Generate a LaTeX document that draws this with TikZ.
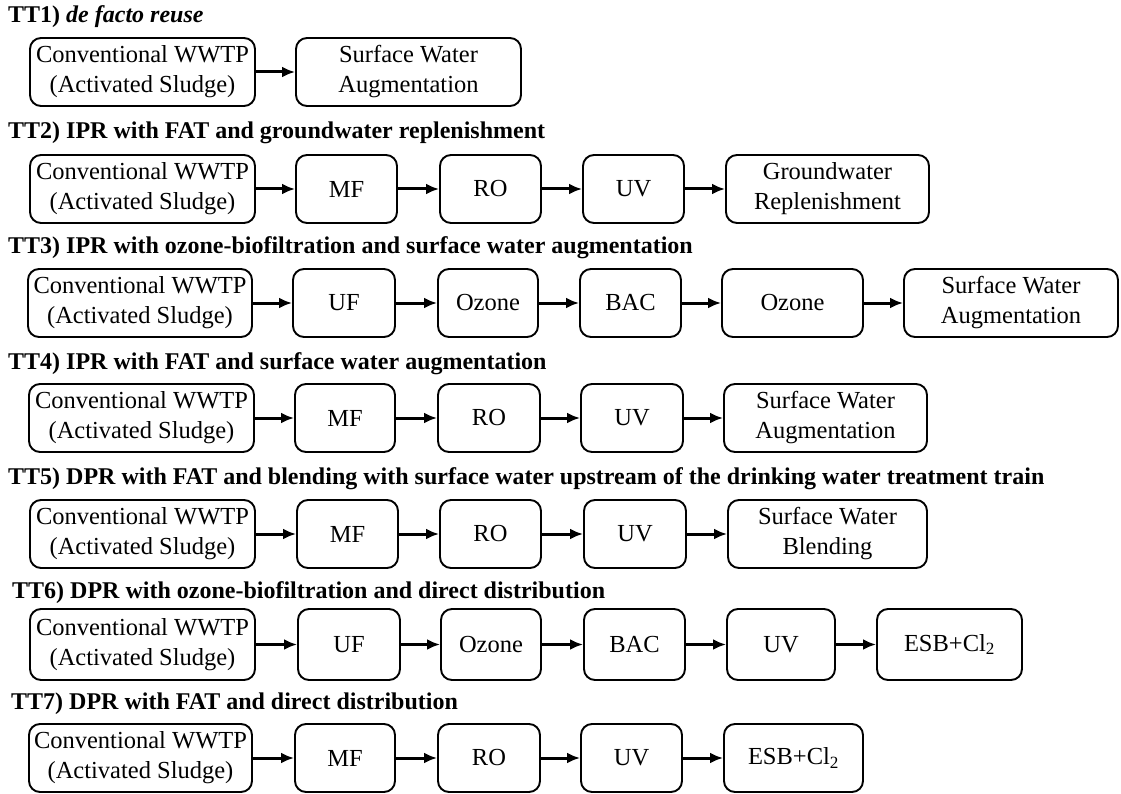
\documentclass[tikz,border=0pt]{standalone}
\usepackage{fontspec}
\setmainfont{Liberation Serif}
\usetikzlibrary{arrows.meta}

\begin{document}
\begin{tikzpicture}[x=1pt,y=-1pt,->,>={Latex[length=13pt,width=11pt]},
                stage/.style={draw=black,line width=1.9pt,rounded corners=11pt,minimum height=68pt,inner sep=0pt,align=center,font=\fontsize{24.5}{30}\selectfont},
                ttl/.style={anchor=base west,inner sep=0pt,font=\fontsize{24}{28}\selectfont\bfseries},
                flow/.style={line width=3pt}]
                \useasboundingbox (0,0) rectangle (1121,794);
                % TT1
                \node[ttl](t1)at(8, 23){TT1) \textit{de facto reuse}};
                \node[stage,minimum width=225pt](c1)at(142.5, 72){Conventional WWTP\\(Activated Sludge)};
                \node[stage,minimum width=225pt](sw1)at(408.5, 72){Surface Water\\Augmentation};
                \path[flow](c1) edge (sw1);
                % TT2
                \node[ttl](t2)at(8, 139){TT2) IPR with FAT and groundwater replenishment};
                \node[stage,minimum width=225pt](c2)at(142.5, 189){Conventional WWTP\\(Activated Sludge)};
                \node[stage,minimum width=101pt](mf2)at(346.5, 189){MF};
                \node[stage,minimum width=101pt](ro2)at(490.5, 189){RO};
                \node[stage,minimum width=101pt](uv2)at(633.5, 189){UV};
                \node[stage,minimum width=203pt](gw2)at(827.5, 189){Groundwater\\Replenishment};
                \path[flow](c2) edge (mf2)
                (mf2) edge (ro2)
                (ro2) edge (uv2)
                (uv2) edge (gw2);
                % TT3
                \node[ttl](t3)at(8, 254){TT3) IPR with ozone-biofiltration and surface water augmentation};
                \node[stage,minimum width=224pt](c3)at(140, 303){Conventional WWTP\\(Activated Sludge)};
                \node[stage,minimum width=102pt](uf3)at(344, 303){UF};
                \node[stage,minimum width=100pt](oz3)at(488, 303){Ozone};
                \node[stage,minimum width=101pt](bac3)at(630.5, 303){BAC};
                \node[stage,minimum width=141pt](ozb3)at(792.5, 303){Ozone};
                \node[stage,minimum width=214pt](sw3)at(1011, 303){Surface Water\\Augmentation};
                \path[flow](c3) edge (uf3)
                (uf3) edge (oz3)
                (oz3) edge (bac3)
                (bac3) edge (ozb3)
                (ozb3) edge (sw3);
                % TT4
                \node[ttl](t4)at(8, 369){TT4) IPR with FAT and surface water augmentation};
                \node[stage,minimum width=225pt](c4)at(141.5, 418){Conventional WWTP\\(Activated Sludge)};
                \node[stage,minimum width=100pt](mf4)at(345, 418){MF};
                \node[stage,minimum width=102pt](ro4)at(489, 418){RO};
                \node[stage,minimum width=102pt](uv4)at(632, 418){UV};
                \node[stage,minimum width=203pt](sw4)at(825.5, 418){Surface Water\\Augmentation};
                \path[flow](c4) edge (mf4)
                (mf4) edge (ro4)
                (ro4) edge (uv4)
                (uv4) edge (sw4);
                % TT5
                \node[ttl](t5)at(8, 484){TT5) DPR with FAT and blending with surface water upstream of the drinking water treatment train};
                \node[stage,minimum width=225pt](c5)at(142.5, 534){Conventional WWTP\\(Activated Sludge)};
                \node[stage,minimum width=101pt](mf5)at(347.5, 534){MF};
                \node[stage,minimum width=101pt](ro5)at(490.5, 534){RO};
                \node[stage,minimum width=102pt](uv5)at(635, 534){UV};
                \node[stage,minimum width=199pt](bl5)at(827.5, 534){Surface Water\\Blending};
                \path[flow](c5) edge (mf5)
                (mf5) edge (ro5)
                (ro5) edge (uv5)
                (uv5) edge (bl5);
                % TT6
                \node[ttl](t6)at(12, 598){TT6) DPR with ozone-biofiltration and direct distribution};
                \node[stage,minimum width=225pt,minimum height=71pt](c6)at(142.5, 644.5){Conventional WWTP\\(Activated Sludge)};
                \node[stage,minimum width=102pt,minimum height=71pt](uf6)at(349, 644.5){UF};
                \node[stage,minimum width=100pt,minimum height=71pt](oz6)at(491, 644.5){Ozone};
                \node[stage,minimum width=101pt,minimum height=71pt](bac6)at(634.5, 644.5){BAC};
                \node[stage,minimum width=108pt,minimum height=71pt](uv6)at(781, 644.5){UV};
                \node[stage,minimum width=145pt,minimum height=71pt](esb6)at(949.5, 644.5){ESB+Cl\textsubscript{2}};
                \path[flow](c6) edge (uf6)
                (uf6) edge (oz6)
                (oz6) edge (bac6)
                (bac6) edge (uv6)
                (uv6) edge (esb6);
                % TT7
                \node[ttl](t7)at(11, 709){TT7) DPR with FAT and direct distribution};
                \node[stage,minimum width=223pt](c7)at(140.5, 758){Conventional WWTP\\(Activated Sludge)};
                \node[stage,minimum width=100pt](mf7)at(345, 758){MF};
                \node[stage,minimum width=102pt](ro7)at(489, 758){RO};
                \node[stage,minimum width=101pt](uv7)at(631.5, 758){UV};
                \node[stage,minimum width=139pt](esb7)at(793.5, 758){ESB+Cl\textsubscript{2}};
                \path[flow](c7) edge (mf7)
                (mf7) edge (ro7)
                (ro7) edge (uv7)
                (uv7) edge (esb7);
\end{tikzpicture}
\end{document}
